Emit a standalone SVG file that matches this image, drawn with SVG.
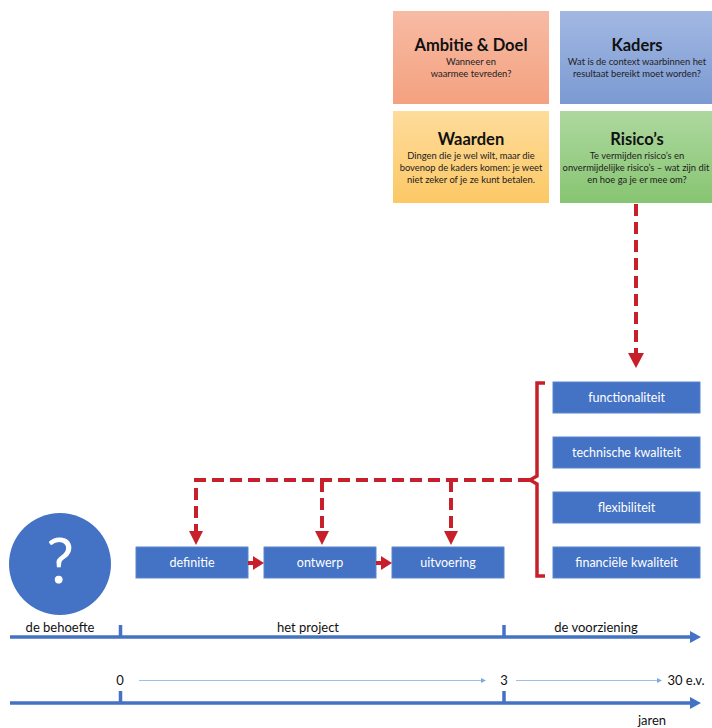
<svg xmlns="http://www.w3.org/2000/svg" width="712" height="728" viewBox="0 0 712 728">
<defs>
<linearGradient id="gA" x1="0" y1="0" x2="0" y2="1"><stop offset="0" stop-color="#F7BBA4"/><stop offset="1" stop-color="#F4A17F"/></linearGradient>
<linearGradient id="gK" x1="0" y1="0" x2="0" y2="1"><stop offset="0" stop-color="#A2B8E2"/><stop offset="1" stop-color="#7B9AD3"/></linearGradient>
<linearGradient id="gW" x1="0" y1="0" x2="0" y2="1"><stop offset="0" stop-color="#FEDC9C"/><stop offset="1" stop-color="#FCC865"/></linearGradient>
<linearGradient id="gR" x1="0" y1="0" x2="0" y2="1"><stop offset="0" stop-color="#ADD89F"/><stop offset="1" stop-color="#87C571"/></linearGradient>
</defs>
<style>
text{font-family:Lato,"Liberation Sans",sans-serif;}
.t{font-size:16.5px;font-weight:bold;fill:#111;text-anchor:middle;}
.s{font-size:9.4px;fill:#222;text-anchor:middle;}
.bx{fill:#4472C4;stroke:#5B86CF;stroke-width:1;}
.bt{font-size:12.5px;fill:#fff;text-anchor:middle;}
.dash{fill:none;stroke:#C8202A;stroke-width:4;stroke-dasharray:12 6;}
.red{fill:#C8202A;}
.ax{stroke:#4472C4;stroke-width:3.5;fill:none;}
.axh{fill:#4472C4;}
.lbl{font-size:13px;fill:#111;text-anchor:middle;}
.thin{stroke:#9DC0E8;stroke-width:1;}
.thh{fill:#7FA9DC;}
</style>

<g id="ambitie">
<rect x="393" y="11" width="156" height="93" fill="url(#gA)"/>
<text class="t" x="471" y="51">Ambitie &amp; Doel</text>
<text class="s" x="471" y="65">Wanneer en</text>
<text class="s" x="471" y="77">waarmee tevreden?</text>
</g>
<g id="kaders">
<rect x="560" y="11" width="152" height="93" fill="url(#gK)"/>
<text class="t" x="637" y="51">Kaders</text>
<text class="s" x="637" y="65">Wat is de context waarbinnen het</text>
<text class="s" x="637" y="77">resultaat bereikt moet worden?</text>
</g>
<g id="waarden">
<rect x="393" y="111" width="156" height="92" fill="url(#gW)"/>
<text class="t" x="471" y="145">Waarden</text>
<text class="s" x="471" y="159">Dingen die je wel wilt, maar die</text>
<text class="s" x="471" y="171">bovenop de kaders komen: je weet</text>
<text class="s" x="471" y="183">niet zeker of je ze kunt betalen.</text>
</g>
<g id="risicos">
<rect x="560" y="111" width="152" height="92" fill="url(#gR)"/>
<text class="t" x="637" y="145">Risico’s</text>
<text class="s" x="637" y="159">Te vermijden risico’s en</text>
<text class="s" x="636" y="171">onvermijdelijke risico’s – wat zijn dit</text>
<text class="s" x="637" y="183">en hoe ga je er mee om?</text>
</g>

<g id="functionaliteit"><rect class="bx" x="553" y="382" width="147" height="31"/><text class="bt" x="626.5" y="402">functionaliteit</text></g>
<g id="technische"><rect class="bx" x="553" y="437" width="147" height="31"/><text class="bt" x="626.5" y="457">technische kwaliteit</text></g>
<g id="flexibiliteit"><rect class="bx" x="553" y="492" width="147" height="31"/><text class="bt" x="626.5" y="512">flexibiliteit</text></g>
<g id="financieel"><rect class="bx" x="553" y="547" width="147" height="31"/><text class="bt" x="626.5" y="567">financiële kwaliteit</text></g>

<g id="definitie"><rect class="bx" x="136" y="547" width="112" height="31"/><text class="bt" x="192" y="567">definitie</text></g>
<g id="ontwerp"><rect class="bx" x="264" y="547" width="112" height="31"/><text class="bt" x="320" y="567">ontwerp</text></g>
<g id="uitvoering"><rect class="bx" x="392" y="547" width="112" height="31"/><text class="bt" x="448" y="567">uitvoering</text></g>

<g id="behoefte">
<circle cx="60" cy="564" r="51" fill="#4472C4"/>
<text x="60" y="583" font-size="62" fill="#fff" text-anchor="middle">?</text>
</g>

<g id="connectors">
<path class="dash" d="M636 204 V354"/>
<path class="red" d="M628 353 L644 353 L636 368 Z"/>
<path d="M545 383 H537 V476 L530 480 L537 484 V576 H545" fill="none" stroke="#C8202A" stroke-width="3.5" stroke-linejoin="miter"/>
<path class="dash" d="M530 480 H196 V532"/>
<path class="dash" d="M322 480 V532"/>
<path class="dash" d="M451 480 V532"/>
<path class="red" d="M189 531 L203 531 L196 545 Z"/>
<path class="red" d="M315 531 L329 531 L322 545 Z"/>
<path class="red" d="M444 531 L458 531 L451 545 Z"/>
<path d="M248 563 H255" stroke="#C8202A" stroke-width="4"/>
<path class="red" d="M253 556 L264 563 L253 570 Z"/>
<path d="M376 563 H383" stroke="#C8202A" stroke-width="4"/>
<path class="red" d="M381 556 L392 563 L381 570 Z"/>
</g>

<g id="timeline1">
<path class="ax" d="M10 637 H692"/>
<path class="axh" d="M690 631 L701 637 L690 643 Z"/>
<path class="ax" d="M120.5 625 V637 M504 625 V637"/>
<text class="lbl" x="60" y="632">de behoefte</text>
<text class="lbl" x="308" y="632">het project</text>
<text class="lbl" x="596" y="632">de voorziening</text>
</g>
<g id="timeline2">
<path class="ax" d="M10 703 H692"/>
<path class="axh" d="M690 697 L701 703 L690 709 Z"/>
<path class="ax" d="M120.5 691 V703 M504 691 V703"/>
<text class="lbl" x="120" y="685">0</text>
<text class="lbl" x="504" y="685">3</text>
<text class="lbl" x="686" y="685">30 e.v.</text>
<text class="lbl" x="652" y="725">jaren</text>
<path class="thin" d="M139 680.5 H482"/>
<path class="thh" d="M481 678 L486 680.5 L481 683 Z"/>
<path class="thin" d="M516 680.5 H658"/>
<path class="thh" d="M657 678 L662 680.5 L657 683 Z"/>
</g>
</svg>
